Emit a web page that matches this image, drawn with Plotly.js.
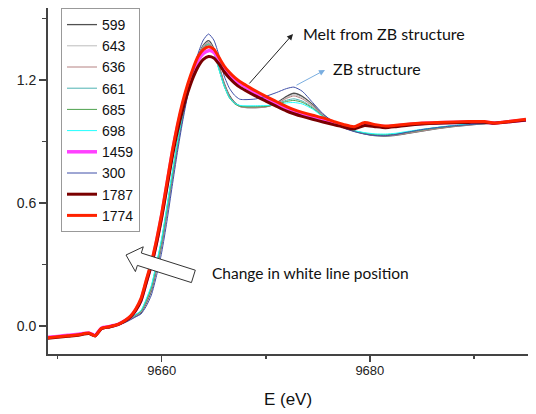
<!DOCTYPE html>
<html>
<head>
<meta charset="utf-8">
<script src="https://cdn.plot.ly/plotly-3.0.1.min.js"></script>
<style>html,body{margin:0;padding:0;background:#fff;}#chart{width:536px;height:414px;}</style>
</head>
<body>
<div id="chart"></div>
<script>
const energy = [9649, 9650, 9651, 9652, 9653, 9653.6, 9654.2, 9655, 9655.8, 9656.5,
  9657, 9657.5, 9658, 9658.5, 9659, 9659.5, 9660, 9660.5, 9661, 9661.5,
  9662, 9662.5, 9663, 9663.5, 9664, 9664.5, 9665, 9665.5, 9666, 9666.5,
  9667, 9667.5, 9668, 9669, 9670, 9671, 9672, 9672.7, 9673.5, 9674.5,
  9675.5, 9676.5, 9677.5, 9678.5, 9679.5, 9680.5, 9681.5, 9682.5, 9683.5, 9685,
  9686.5, 9688, 9689.5, 9691, 9692, 9693.5, 9695];

const labels = ['599', '643', '636', '661', '685', '698', '1459', '300', '1787', '1774'];

const s599 = [-0.055, -0.050, -0.046, -0.041, -0.034, -0.047, -0.013, -0.004, 0.006, 0.020,
  0.033, 0.048, 0.063, 0.110, 0.170, 0.275, 0.395, 0.550, 0.715, 0.875,
  1.015, 1.135, 1.235, 1.315, 1.370, 1.392, 1.355, 1.270, 1.185, 1.125,
  1.090, 1.072, 1.066, 1.065, 1.070, 1.087, 1.120, 1.135, 1.120, 1.080,
  1.030, 0.995, 0.968, 0.950, 0.937, 0.928, 0.926, 0.930, 0.938, 0.950,
  0.962, 0.972, 0.980, 0.986, 0.990, 0.996, 1.002];
const s643 = [-0.055, -0.050, -0.045, -0.040, -0.033, -0.046, -0.012, -0.003, 0.007, 0.021,
  0.034, 0.050, 0.066, 0.115, 0.178, 0.285, 0.405, 0.560, 0.725, 0.882,
  1.020, 1.138, 1.236, 1.313, 1.366, 1.386, 1.350, 1.265, 1.180, 1.120,
  1.087, 1.070, 1.065, 1.064, 1.068, 1.084, 1.114, 1.128, 1.114, 1.076,
  1.028, 0.994, 0.968, 0.951, 0.938, 0.930, 0.928, 0.932, 0.940, 0.952,
  0.964, 0.974, 0.981, 0.987, 0.991, 0.997, 1.002];
const s636 = [-0.055, -0.050, -0.045, -0.040, -0.033, -0.046, -0.012, -0.003, 0.007, 0.022,
  0.035, 0.051, 0.068, 0.118, 0.182, 0.290, 0.410, 0.565, 0.728, 0.884,
  1.020, 1.137, 1.234, 1.310, 1.362, 1.382, 1.346, 1.262, 1.178, 1.118,
  1.086, 1.070, 1.066, 1.065, 1.068, 1.083, 1.110, 1.122, 1.108, 1.072,
  1.026, 0.993, 0.967, 0.950, 0.938, 0.930, 0.928, 0.932, 0.940, 0.952,
  0.964, 0.974, 0.981, 0.987, 0.991, 0.997, 1.002];
const s661 = [-0.054, -0.049, -0.044, -0.039, -0.032, -0.044, -0.010, -0.002, 0.008, 0.024,
  0.038, 0.055, 0.073, 0.126, 0.192, 0.302, 0.423, 0.578, 0.740, 0.893,
  1.026, 1.140, 1.234, 1.308, 1.358, 1.377, 1.340, 1.255, 1.172, 1.115,
  1.086, 1.074, 1.071, 1.071, 1.073, 1.083, 1.101, 1.108, 1.097, 1.066,
  1.024, 0.993, 0.968, 0.952, 0.941, 0.934, 0.933, 0.937, 0.945, 0.957,
  0.968, 0.977, 0.984, 0.989, 0.992, 0.997, 1.002];
const s685 = [-0.055, -0.050, -0.045, -0.040, -0.033, -0.045, -0.011, -0.002, 0.008, 0.023,
  0.037, 0.054, 0.071, 0.123, 0.188, 0.298, 0.418, 0.573, 0.735, 0.889,
  1.023, 1.137, 1.231, 1.305, 1.355, 1.374, 1.337, 1.252, 1.170, 1.113,
  1.084, 1.072, 1.069, 1.069, 1.071, 1.080, 1.095, 1.100, 1.091, 1.062,
  1.022, 0.992, 0.967, 0.951, 0.940, 0.933, 0.932, 0.936, 0.944, 0.956,
  0.967, 0.976, 0.983, 0.988, 0.992, 0.997, 1.002];
const s698 = [-0.054, -0.049, -0.044, -0.039, -0.032, -0.044, -0.010, -0.002, 0.009, 0.025,
  0.039, 0.056, 0.075, 0.130, 0.197, 0.308, 0.430, 0.585, 0.746, 0.897,
  1.028, 1.140, 1.232, 1.304, 1.352, 1.370, 1.333, 1.250, 1.170, 1.114,
  1.087, 1.076, 1.074, 1.074, 1.075, 1.080, 1.088, 1.090, 1.083, 1.058,
  1.020, 0.991, 0.968, 0.953, 0.943, 0.937, 0.936, 0.940, 0.948, 0.959,
  0.969, 0.978, 0.985, 0.990, 0.993, 0.998, 1.003];
const s1459 = [-0.056, -0.051, -0.046, -0.041, -0.034, -0.046, -0.011, -0.002, 0.008, 0.026,
  0.045, 0.078, 0.125, 0.212, 0.300, 0.410, 0.540, 0.690, 0.840, 0.968,
  1.075, 1.163, 1.238, 1.296, 1.330, 1.343, 1.335, 1.300, 1.260, 1.228,
  1.203, 1.183, 1.167, 1.137, 1.110, 1.085, 1.062, 1.048, 1.035, 1.020,
  1.006, 0.992, 0.978, 0.968, 0.986, 0.978, 0.972, 0.976, 0.982, 0.988,
  0.991, 0.993, 0.995, 0.995, 0.990, 0.997, 1.005];
const s300 = [-0.057, -0.052, -0.047, -0.042, -0.035, -0.045, -0.010, -0.003, 0.005, 0.017,
  0.030, 0.044, 0.058, 0.095, 0.150, 0.245, 0.360, 0.510, 0.680, 0.845,
  0.995, 1.125, 1.235, 1.330, 1.395, 1.424, 1.395, 1.320, 1.220, 1.160,
  1.125, 1.106, 1.104, 1.107, 1.120, 1.138, 1.158, 1.165, 1.145, 1.090,
  1.035, 0.995, 0.965, 0.948, 0.936, 0.929, 0.928, 0.934, 0.944, 0.958,
  0.968, 0.976, 0.982, 0.987, 0.990, 0.996, 1.001];
const s1787 = [-0.060, -0.055, -0.050, -0.045, -0.037, -0.049, -0.014, -0.005, 0.006, 0.025,
  0.044, 0.076, 0.122, 0.208, 0.295, 0.402, 0.530, 0.675, 0.822, 0.948,
  1.052, 1.138, 1.210, 1.265, 1.300, 1.314, 1.307, 1.278, 1.240, 1.210,
  1.185, 1.165, 1.150, 1.122, 1.097, 1.072, 1.048, 1.035, 1.022, 1.008,
  0.995, 0.982, 0.970, 0.961, 0.978, 0.972, 0.967, 0.972, 0.978, 0.985,
  0.989, 0.991, 0.993, 0.994, 0.989, 0.996, 1.004];
const s1774 = [-0.058, -0.053, -0.048, -0.043, -0.035, -0.048, -0.012, -0.003, 0.008, 0.028,
  0.048, 0.083, 0.133, 0.222, 0.310, 0.420, 0.550, 0.700, 0.850, 0.980,
  1.090, 1.180, 1.255, 1.315, 1.348, 1.362, 1.350, 1.310, 1.268, 1.237,
  1.212, 1.192, 1.177, 1.147, 1.120, 1.095, 1.070, 1.055, 1.042, 1.028,
  1.015, 0.998, 0.982, 0.972, 0.992, 0.982, 0.975, 0.979, 0.984, 0.990,
  0.993, 0.995, 0.997, 0.997, 0.990, 0.999, 1.008];

const seriesValues = [s599, s643, s636, s661, s685, s698, s1459, s300, s1787, s1774];
const colors = ['#505050', '#bdbdbd', '#b58282', '#4db3b3', '#4ea24e', '#22ffff', '#ff40ff', '#3f4fa8', '#7a0000', '#ff2200'];
const widths = [1.3, 1, 1, 1, 1, 1, 3.5, 1, 3, 3];

const xRange = [9649.07, 9695.2];
const yRange = [-0.137, 1.551];

// plot-area geometry in pixels (for placing annotations)
const M = {l: 48, r: 8, t: 8, b: 60};
const W = 536, H = 414;
const PW = W - M.l - M.r, PH = H - M.t - M.b;
const px = v => (v - M.l) / PW;
const py = v => (M.t + PH - v) / PH;

const traces = seriesValues.map((vals, i) => ({
  type: 'scatter', mode: 'lines', x: energy, y: vals, name: labels[i],
  line: {color: colors[i], width: widths[i], shape: 'spline', smoothing: 0.6}
}));

// block arrow (hollow) polygon in pixel coords
const arrowPts = [[126, 255], [143.3, 246.8], [141.3, 253.0], [195.3, 270.2], [191.4, 282.6], [137.4, 265.4], [135.4, 271.6]];
const arrowPath = arrowPts.map((p, i) => (i ? 'L' : 'M') + px(p[0]).toFixed(4) + ',' + py(p[1]).toFixed(4)).join(' ') + ' Z';

const annFont = {family: 'Lato, "Noto Sans", sans-serif', size: 16, color: '#111'};

const layout = {
  width: W, height: H,
  margin: M,
  paper_bgcolor: '#fff', plot_bgcolor: '#fff',
  font: {family: '"Liberation Sans", Arial, sans-serif', color: '#222'},
  showlegend: true,
  legend: {
    x: px(61), y: 1, xanchor: 'left', yanchor: 'top',
    bgcolor: '#fff', bordercolor: '#999', borderwidth: 1,
    font: {family: '"Liberation Sans", Arial, sans-serif', size: 14, color: '#111'},
    traceorder: 'normal'
  },
  xaxis: {
    range: xRange, showgrid: false, zeroline: false,
    showline: true, linecolor: '#444', linewidth: 2,
    ticks: 'outside', ticklen: 6, tickwidth: 1.5, tickcolor: '#444',
    tick0: 9660, dtick: 20,
    tickfont: {size: 13, color: '#222'},
    ticklabelstandoff: -3,
    minor: {tick0: 9650, dtick: 10, ticks: 'outside', ticklen: 3, tickwidth: 1.5, tickcolor: '#444', showgrid: false},
    title: {text: 'E (eV)', font: {size: 17, color: '#111'}, standoff: 17}
  },
  yaxis: {
    range: yRange, showgrid: false, zeroline: false,
    showline: true, linecolor: '#444', linewidth: 2,
    ticks: 'outside', ticklen: 7, tickwidth: 1.5, tickcolor: '#444',
    tick0: 0, dtick: 0.6, tickformat: '.1f',
    tickfont: {size: 14, color: '#222'},
    minor: {tick0: 0, dtick: 0.3, ticks: 'outside', ticklen: 4, tickwidth: 1.5, tickcolor: '#444', showgrid: false}
  },
  shapes: [{
    type: 'path', xref: 'paper', yref: 'paper', path: arrowPath,
    fillcolor: '#fff', line: {color: '#333', width: 1}, layer: 'above'
  }],
  annotations: [
    {xref: 'paper', yref: 'paper', x: px(301), y: py(33), xanchor: 'left', yanchor: 'middle',
     text: 'Melt from ZB structure', showarrow: false, font: annFont},
    {xref: 'paper', yref: 'paper', x: px(331), y: py(68), xanchor: 'left', yanchor: 'middle',
     text: 'ZB structure', showarrow: false, font: annFont},
    {xref: 'paper', yref: 'paper', x: px(210), y: py(273), xanchor: 'left', yanchor: 'middle',
     text: 'Change in white line position', showarrow: false, font: {family: annFont.family, size: 15.5, color: '#111'}},
    {xref: 'paper', yref: 'paper', x: px(293), y: py(34), text: '', showarrow: true,
     ax: -45, ay: 51, arrowhead: 2, arrowsize: 1.2, arrowwidth: 1, arrowcolor: '#222', standoff: 0},
    {xref: 'paper', yref: 'paper', x: px(325), y: py(70), text: '', showarrow: true,
     ax: -30, ay: 16, arrowhead: 2, arrowsize: 1.2, arrowwidth: 1, arrowcolor: '#7aaee0', standoff: 0}
  ]
};

Plotly.newPlot('chart', traces, layout, {staticPlot: true, displayModeBar: false});
</script>
</body>
</html>
